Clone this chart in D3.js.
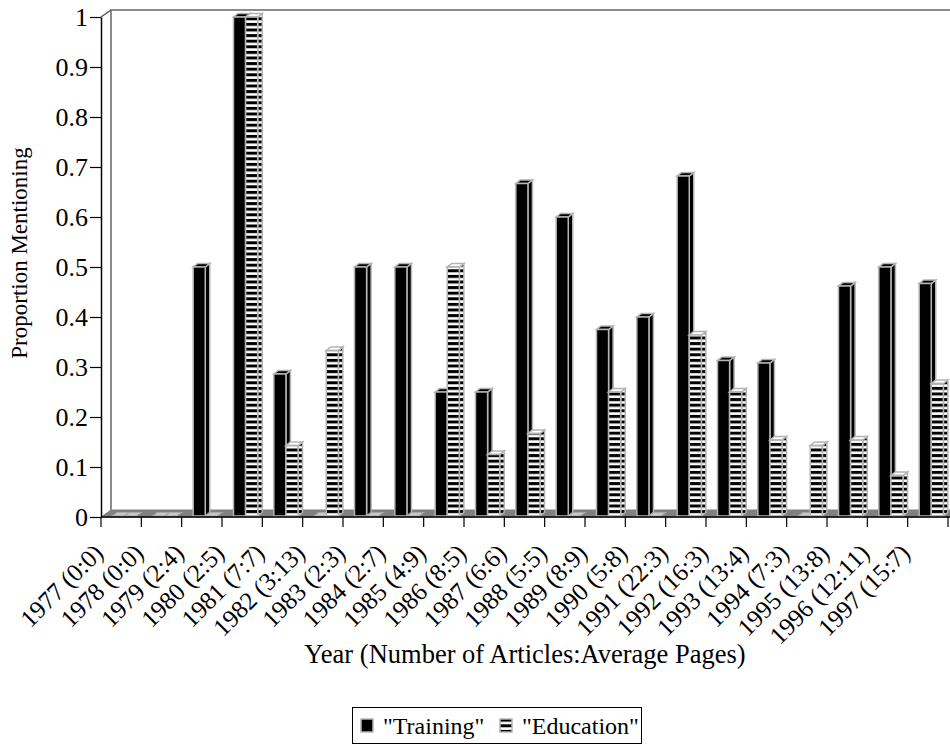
<!DOCTYPE html>
<html>
<head>
<meta charset="utf-8">
<script src="https://cdn.jsdelivr.net/npm/d3@7"></script>
<style>
  html, body { margin: 0; padding: 0; background: #fff; }
  svg { display: block; font-family: "Liberation Serif", "Times New Roman", serif; }
  text { font-family: "Liberation Serif", "Times New Roman", serif; }
</style>
</head>
<body>
<svg id="chart" width="950" height="745"></svg>
<script>
// Year labels: "year (number of articles:average pages)"
const categories = [
  "1977 (0:0)", "1978 (0:0)", "1979 (2:4)", "1980 (2:5)", "1981 (7:7)",
  "1982 (3:13)", "1983 (2:3)", "1984 (2:7)", "1985 (4:9)", "1986 (8:5)",
  "1987 (6:6)", "1988 (5:5)", "1989 (8:9)", "1990 (5:8)", "1991 (22:3)",
  "1992 (16:3)", "1993 (13:4)", "1994 (7:3)", "1995 (13:8)", "1996 (12:11)",
  "1997 (15:7)"
];
const seriesNames = ["\"Training\"", "\"Education\""];
// Proportion of articles mentioning each term
const training = [
  0, 0, 0.5, 1, 0.286, 0, 0.5, 0.5, 0.25, 0.25,
  0.667, 0.6, 0.375, 0.4, 0.682, 0.313, 0.308, 0, 0.462, 0.5, 0.467
];
const education = [
  0, 0, 0, 1, 0.143, 0.333, 0, 0, 0.5, 0.125,
  0.167, 0, 0.25, 0, 0.364, 0.25, 0.154, 0.143, 0.154, 0.083, 0.267
];
const yTickValues = [0, 0.1, 0.2, 0.3, 0.4, 0.5, 0.6, 0.7, 0.8, 0.9, 1];

const svg = d3.select("#chart");
const FONT = 24;

// Plot frame
const plotLeft = 101, plotRight = 948, plotTop = 17, plotBottom = 517;
const depth = { dx: 10, dy: -7 };     // wall / floor depth
const bDepth = { dx: 4.5, dy: -3.5 }; // bar depth

const x = d3.scaleBand().domain(categories).range([plotLeft, plotRight]).paddingInner(0).paddingOuter(0);
const y = d3.scaleLinear().domain([0, 1]).range([plotBottom, plotTop]);
const bw = x.bandwidth();
const xs = d3.scaleBand().domain(seriesNames).range([bw * 0.285, bw * 0.285 + bw * 0.6]).padding(0);
const barW = xs.bandwidth();

// Stripe pattern for the "Education" series
const defs = svg.append("defs");
const pat = defs.append("pattern").attr("id", "stripes")
  .attr("patternUnits", "userSpaceOnUse").attr("width", 8).attr("height", 5.6)
  .attr("y", 0.5);
pat.append("rect").attr("width", 8).attr("height", 5.6).attr("fill", "#fff");
pat.append("rect").attr("y", 0).attr("width", 8).attr("height", 3).attr("fill", "#000");

// Back wall and floor
const wallColor = "#8c8c8c";
svg.append("polygon")
  .attr("points", [[plotLeft, plotBottom], [plotRight + 20, plotBottom], [plotRight + 20 + depth.dx, plotBottom + depth.dy], [plotLeft + depth.dx, plotBottom + depth.dy]].map(p => p.join(",")).join(" "))
  .attr("fill", "#808080").attr("stroke", "#808080").attr("stroke-width", 1);
svg.append("path")
  .attr("d", `M${plotLeft + depth.dx},${plotBottom + depth.dy}V${plotTop + depth.dy}H${plotRight + 30}`)
  .attr("fill", "none").attr("stroke", wallColor).attr("stroke-width", 2);
svg.append("line")
  .attr("x1", plotLeft).attr("y1", plotTop).attr("x2", plotLeft + depth.dx).attr("y2", plotTop + depth.dy)
  .attr("stroke", "#555").attr("stroke-width", 1.5);

// Bars
const rows = categories.map((c, i) => ({ cat: c, vals: [training[i], education[i]] }));
const barBase = plotBottom - 1;
const stroke = "#b4b4b4";

const groups = svg.append("g").selectAll("g").data(rows).join("g")
  .attr("transform", d => `translate(${x(d.cat)},0)`);

groups.each(function (d) {
  const g = d3.select(this);
  d.vals.forEach((v, si) => {
    const name = seriesNames[si];
    const x0 = xs(name), x1 = x0 + barW;
    const yt = y(v);
    const fill = si === 0 ? "#000" : "url(#stripes)";
    const sideFill = si === 0 ? "#000" : "url(#stripes)";
    const topFill = si === 0 ? "#000" : "#fff";
    if (v <= 0) {
      g.append("polygon")
        .attr("points", [[x0, barBase], [x1, barBase], [x1 + bDepth.dx, barBase + bDepth.dy], [x0 + bDepth.dx, barBase + bDepth.dy]].map(p => p.join(",")).join(" "))
        .attr("fill", "#c8c8c8").attr("stroke", "#a8a8a8").attr("stroke-width", 1.2);
      return;
    }
    // side face
    g.append("polygon")
      .attr("points", [[x1, barBase], [x1, yt], [x1 + bDepth.dx, yt + bDepth.dy], [x1 + bDepth.dx, barBase + bDepth.dy]].map(p => p.join(",")).join(" "))
      .attr("fill", sideFill).attr("stroke", stroke).attr("stroke-width", 1.5);
    // top face
    g.append("polygon")
      .attr("points", [[x0, yt], [x1, yt], [x1 + bDepth.dx, yt + bDepth.dy], [x0 + bDepth.dx, yt + bDepth.dy]].map(p => p.join(",")).join(" "))
      .attr("fill", topFill).attr("stroke", stroke).attr("stroke-width", 1.5);
    // front face
    g.append("rect")
      .attr("x", x0).attr("y", yt).attr("width", barW).attr("height", barBase - yt)
      .attr("fill", fill).attr("stroke", stroke).attr("stroke-width", 1.5);
  });
});

// Y axis
const yAxis = d3.axisLeft(y).tickValues(yTickValues).tickSize(11).tickSizeOuter(0).tickPadding(2)
  .tickFormat(d3.format("~g"));
const gy = svg.append("g").attr("transform", `translate(${plotLeft},0)`).call(yAxis)
  .attr("font-family", "Liberation Serif").attr("font-size", 26);
gy.select(".domain").attr("stroke", "#000").attr("stroke-width", 1.5);
gy.selectAll(".tick line").attr("stroke", "#000").attr("stroke-width", 1.2);
gy.selectAll(".tick text").attr("fill", "#000").attr("dy", "0.34em");

// X axis: baseline and ticks at category boundaries
svg.append("line").attr("x1", plotLeft).attr("x2", 950).attr("y1", plotBottom).attr("y2", plotBottom)
  .attr("stroke", "#000").attr("stroke-width", 1.5);
const bounds = categories.map(c => x(c)).concat([plotRight]);
svg.append("g").selectAll("line").data(bounds).join("line")
  .attr("x1", d => d).attr("x2", d => d).attr("y1", plotBottom).attr("y2", plotBottom + 10)
  .attr("stroke", "#000").attr("stroke-width", 1.2);
svg.append("g").selectAll("text").data(categories).join("text")
  .attr("transform", d => `translate(${x(d) + bw / 2 - 16.5},${plotBottom + 37.5}) rotate(-45)`)
  .attr("text-anchor", "end")
  .attr("font-size", 25).attr("fill", "#000")
  .text(d => d);

// Axis titles
svg.append("text")
  .attr("transform", `translate(27,${(plotTop + plotBottom) / 2 - 14}) rotate(-90)`)
  .attr("text-anchor", "middle").attr("font-size", 23).text("Proportion Mentioning");
svg.append("text")
  .attr("x", 525).attr("y", 663).attr("text-anchor", "middle").attr("font-size", 26.5)
  .text("Year (Number of Articles:Average Pages)");

// Legend
const lg = svg.append("g").attr("transform", "translate(352,707)");
lg.append("rect").attr("x", 0.5).attr("y", 0.5).attr("width", 289).attr("height", 36)
  .attr("fill", "#fff").attr("stroke", "#000").attr("stroke-width", 1);
const legendItems = [
  { name: seriesNames[0], sx: 9, tx: 31, fill: "#000" },
  { name: seriesNames[1], sx: 148, tx: 170, fill: "url(#stripes)" }
];
legendItems.forEach(it => {
  lg.append("rect").attr("x", it.sx).attr("y", 12).attr("width", 12).attr("height", 13)
    .attr("fill", it.fill).attr("stroke", "#b4b4b4").attr("stroke-width", 1.5);
  lg.append("text").attr("x", it.tx).attr("y", 27).attr("font-size", FONT).text(it.name);
});
</script>
</body>
</html>
